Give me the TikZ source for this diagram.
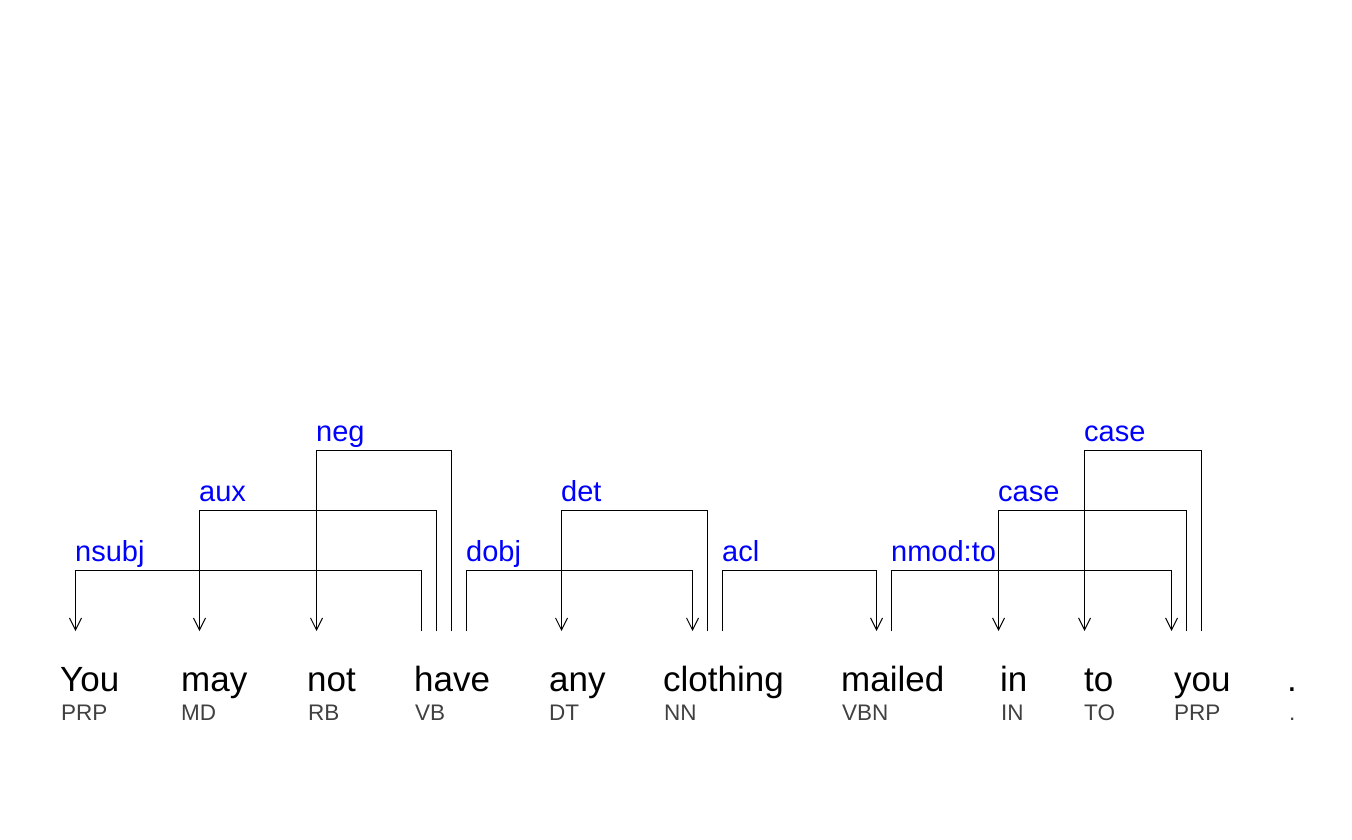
\documentclass[tikz,border=0pt]{standalone}
\usepackage{fontspec}
\setmainfont{Liberation Sans}
\usetikzlibrary{arrows.meta}
\definecolor{tagcol}{RGB}{64,64,64}
\definecolor{labblue}{RGB}{0,0,255}
\tikzset{
  word/.style={anchor=base west,inner sep=0pt,font=\fontsize{35}{40}\selectfont,text=black},
  tag/.style={anchor=base west,inner sep=0pt,font=\fontsize{22.5}{26}\selectfont,text=tagcol},
  rel/.style={anchor=base west,inner sep=0pt,font=\fontsize{29}{33}\selectfont,text=labblue},
  dep/.style={draw=black,line width=1pt,-{Straight Barb[length=12pt,width=12pt,line width=1pt]}},
}
\begin{document}
\begin{tikzpicture}[x=1pt,y=-1pt]
\useasboundingbox (0,0) rectangle (1352,840);
% words
\node[word] (w1) at (60,691) {You};
\node[word] (w2) at (181,691) {may};
\node[word] (w3) at (307,691) {not};
\node[word] (w4) at (414,691) {have};
\node[word] (w5) at (549,691) {any};
\node[word] (w6) at (663,691) {clothing};
\node[word] (w7) at (841,691) {mailed};
\node[word] (w8) at (1000,691) {in};
\node[word] (w9) at (1084,691) {to};
\node[word] (w10) at (1174,691) {you};
\node[word] (w11) at (1287,691) {.};
% tags
\node[tag] (t1) at (61,720) {PRP};
\node[tag] (t2) at (181,720) {MD};
\node[tag] (t3) at (308,720) {RB};
\node[tag] (t4) at (415,720) {VB};
\node[tag] (t5) at (549,720) {DT};
\node[tag] (t6) at (664,720) {NN};
\node[tag] (t7) at (842,720) {VBN};
\node[tag] (t8) at (1001,720) {IN};
\node[tag] (t9) at (1084,720) {TO};
\node[tag] (t10) at (1174,720) {PRP};
\node[tag] (t11) at (1289,720) {.};
% attachment points
\coordinate (You-in) at (75.5,631);
\coordinate (may-in) at (199.5,631);
\coordinate (not-in) at (316.5,631);
\coordinate (have-o1) at (421.5,631);
\coordinate (have-o2) at (436.5,631);
\coordinate (have-o3) at (451.5,631);
\coordinate (have-o4) at (466.5,631);
\coordinate (any-in) at (561.5,631);
\coordinate (clothing-in) at (692.5,631);
\coordinate (clothing-o1) at (707.5,631);
\coordinate (clothing-o2) at (722.5,631);
\coordinate (mailed-in) at (876.5,631);
\coordinate (mailed-o1) at (891.5,631);
\coordinate (in-in) at (998.5,631);
\coordinate (to-in) at (1084.5,631);
\coordinate (you-in) at (1171.5,631);
\coordinate (you-o1) at (1186.5,631);
\coordinate (you-o2) at (1201.5,631);
% edges
\draw[dep] (have-o1) -- ++(0,-60.5) -| (You-in);
\draw[dep] (have-o2) -- ++(0,-120.5) -| (may-in);
\draw[dep] (have-o3) -- ++(0,-180.5) -| (not-in);
\draw[dep] (have-o4) -- ++(0,-60.5) -| (clothing-in);
\draw[dep] (clothing-o1) -- ++(0,-120.5) -| (any-in);
\draw[dep] (clothing-o2) -- ++(0,-60.5) -| (mailed-in);
\draw[dep] (mailed-o1) -- ++(0,-60.5) -| (you-in);
\draw[dep] (you-o1) -- ++(0,-120.5) -| (in-in);
\draw[dep] (you-o2) -- ++(0,-180.5) -| (to-in);
% labels
\node[rel] (l1) at (75,561.5) {nsubj};
\node[rel] (l2) at (199,501.5) {aux};
\node[rel] (l3) at (316,441.5) {neg};
\node[rel] (l4) at (466,561.5) {dobj};
\node[rel] (l5) at (561,501.5) {det};
\node[rel] (l6) at (722,561.5) {acl};
\node[rel] (l7) at (891,561.5) {nmod:to};
\node[rel] (l8) at (998,501.5) {case};
\node[rel] (l9) at (1084,441.5) {case};
\end{tikzpicture}
\end{document}
